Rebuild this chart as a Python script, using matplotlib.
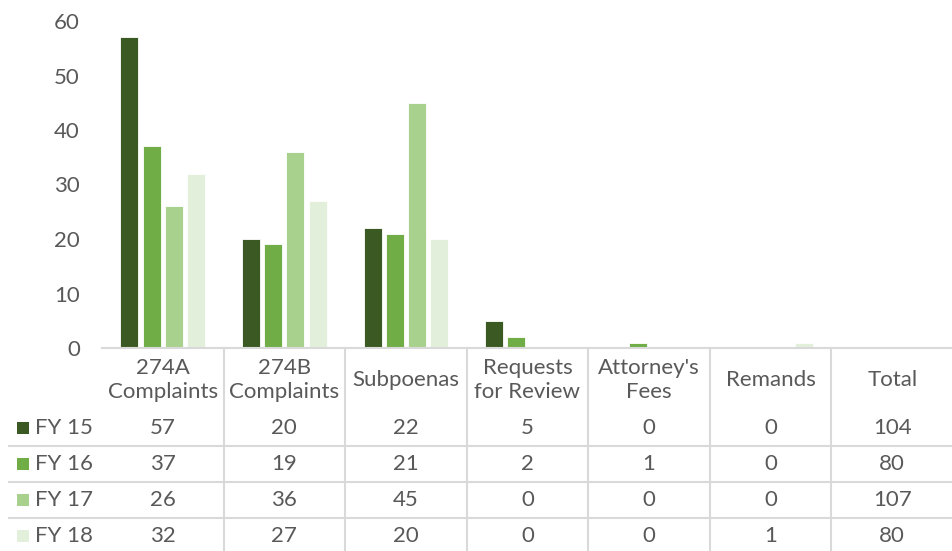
import numpy as np
import matplotlib
matplotlib.use('Agg')
import matplotlib.pyplot as plt
from matplotlib.patches import Rectangle

plt.rcParams['font.family'] = ['Lato', 'DejaVu Sans']

categories = ['274A\nComplaints', '274B\nComplaints', 'Subpoenas', 'Requests\nfor Review',
              "Attorney's\nFees", 'Remands', 'Total']
series = ['FY 15', 'FY 16', 'FY 17', 'FY 18']
fy15 = [57, 20, 22, 5, 0, 0, 104]
fy16 = [37, 19, 21, 2, 1, 0, 80]
fy17 = [26, 36, 45, 0, 0, 0, 107]
fy18 = [32, 27, 20, 0, 0, 1, 80]
colors = ['#3B5A23', '#70AD47', '#A9D18E', '#E2EFDA']

values = [fy15, fy16, fy17, fy18]
text_color = '#595959'
line_color = '#D9D9D9'
fs = 16

W, H = 953, 551
fig = plt.figure(figsize=(W / 100, H / 100), dpi=100)

# chart area (pixel layout converted to figure fractions)
x0, x1 = 102, 953
y_top, y_axis = 21, 348
ax = fig.add_axes([x0 / W, (H - y_axis) / H, (x1 - x0) / W, (y_axis - y_top) / H])
n = len(categories)
x = np.arange(n)
step, width = 0.183, 0.148
# Total column is shown only in the table, not as bars
nbars = n - 1
for i, (vals, c) in enumerate(zip(values, colors)):
    ax.bar(x[:nbars] + (i - 1.5) * step, vals[:nbars], width=width, color=c,
           edgecolor='white', linewidth=0.6, zorder=2)
ax.set_xlim(-0.5, n - 0.5)
ax.set_ylim(0, 60)
ax.set_yticks(range(0, 61, 10))
ax.tick_params(axis='y', length=0, pad=16, labelsize=fs, labelcolor=text_color)
ax.set_xticks([])
for s in ['top', 'right', 'left']:
    ax.spines[s].set_visible(False)
ax.spines['bottom'].set_color(line_color)
ax.spines['bottom'].set_linewidth(1.5)

# data table below the chart, y measured in screen pixels
tab = fig.add_axes([x0 / W, 0, (x1 - x0) / W, (H - y_axis) / H])
tab.set_xlim(-0.5, n - 0.5)
tab.set_ylim(H, y_axis)
tab.axis('off')
px = 1.0 / ((x1 - x0) / n)  # data units per pixel horizontally

header_bottom = 410
row_h = 36
for k in range(1, n):
    tab.plot([k - 0.5, k - 0.5], [y_axis, H], color=line_color, lw=1.5, clip_on=False)
for r in range(1, len(series)):
    yy = header_bottom + r * row_h
    tab.plot([-0.5 - (x0 - 9) * px, n - 0.5], [yy, yy], color=line_color, lw=1.5, clip_on=False)

for j, cat in enumerate(categories):
    tab.text(j, (y_axis + header_bottom) / 2 + 1, cat, ha='center', va='center',
             fontsize=fs, color=text_color, linespacing=1.25)

for r, (name, vals, c) in enumerate(zip(series, values, colors)):
    yc = header_bottom + r * row_h + row_h / 2
    tab.add_patch(Rectangle((-0.5 - (x0 - 17) * px, yc - 6), 12 * px, 12,
                            facecolor=c, edgecolor='none', clip_on=False))
    tab.text(-0.5 - (x0 - 35) * px, yc, name, ha='left', va='center',
             fontsize=fs, color=text_color)
    for j, v in enumerate(vals):
        tab.text(j, yc, str(v), ha='center', va='center', fontsize=fs, color=text_color)

fig.savefig('out.png', dpi=100)
